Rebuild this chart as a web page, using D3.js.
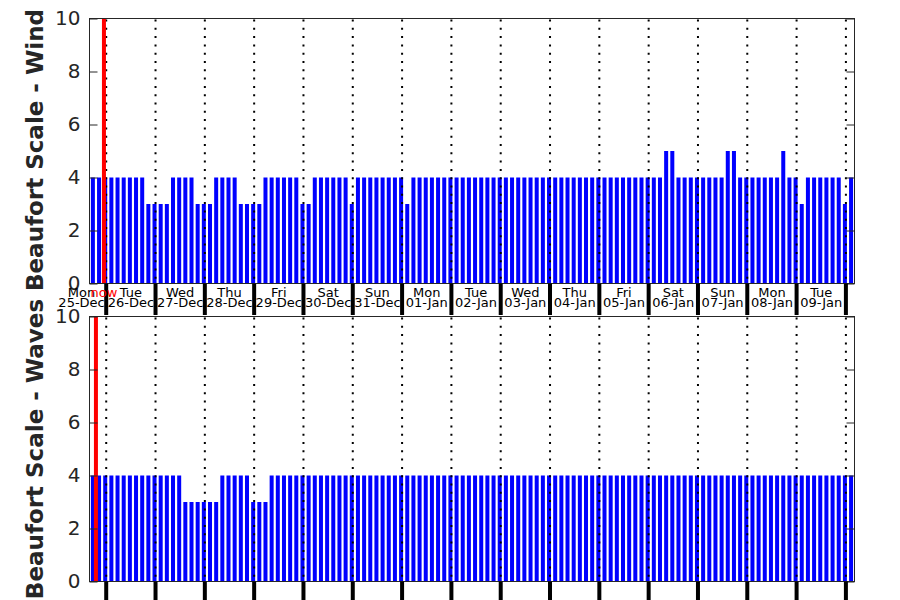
<!DOCTYPE html>
<html>
<head>
<meta charset="utf-8">
<script src="https://cdn.jsdelivr.net/npm/d3@7"></script>
<style>
  body { margin: 0; background: #fff; }
  svg { display: block; font-family: "DejaVu Sans", sans-serif; }
</style>
</head>
<body>
<svg id="chart" width="900" height="600"></svg>
<script>
// 3-hourly forecast, first slot Mon 25-Dec 18:00
const firstSlot = new Date(2023, 11, 25, 18);
const stepHours = 3;

const windValues = [
  4, 4,
  4, 4, 4, 4, 4, 4, 4, 3,
  3, 3, 3, 4, 4, 4, 4, 3,
  3, 3, 4, 4, 4, 4, 3, 3,
  3, 3, 4, 4, 4, 4, 4, 4,
  3, 3, 4, 4, 4, 4, 4, 4,
  3, 4, 4, 4, 4, 4, 4, 4,
  4, 3, 4, 4, 4, 4, 4, 4,
  4, 4, 4, 4, 4, 4, 4, 4,
  4, 4, 4, 4, 4, 4, 4, 4,
  4, 4, 4, 4, 4, 4, 4, 4,
  4, 4, 4, 4, 4, 4, 4, 4,
  4, 4, 4, 5, 5, 4, 4, 4,
  4, 4, 4, 4, 4, 5, 5, 4,
  4, 4, 4, 4, 4, 4, 5, 4,
  4, 3, 4, 4, 4, 4, 4, 4,
  3, 4
];

const waveValues = [
  4, 4,
  4, 4, 4, 4, 4, 4, 4, 4,
  4, 4, 4, 4, 4, 3, 3, 3,
  3, 3, 3, 4, 4, 4, 4, 4,
  3, 3, 3, 4, 4, 4, 4, 4,
  4, 4, 4, 4, 4, 4, 4, 4,
  4, 4, 4, 4, 4, 4, 4, 4,
  4, 4, 4, 4, 4, 4, 4, 4,
  4, 4, 4, 4, 4, 4, 4, 4,
  4, 4, 4, 4, 4, 4, 4, 4,
  4, 4, 4, 4, 4, 4, 4, 4,
  4, 4, 4, 4, 4, 4, 4, 4,
  4, 4, 4, 4, 4, 4, 4, 4,
  4, 4, 4, 4, 4, 4, 4, 4,
  4, 4, 4, 4, 4, 4, 4, 4,
  4, 4, 4, 4, 4, 4, 4, 4,
  4, 4
];

const weekdayLabels = ["Mon", "Tue", "Wed", "Thu", "Fri", "Sat", "Sun", "Mon",
                       "Tue", "Wed", "Thu", "Fri", "Sat", "Sun", "Mon", "Tue"];
const dateLabels = ["25-Dec", "26-Dec", "27-Dec", "28-Dec", "29-Dec", "30-Dec", "31-Dec", "01-Jan",
                    "02-Jan", "03-Jan", "04-Jan", "05-Jan", "06-Jan", "07-Jan", "08-Jan", "09-Jan"];
const firstDay = new Date(2023, 11, 25);

const yTicks = [0, 2, 4, 6, 8, 10];
const xLimits = [new Date(2023, 11, 25, 15, 52), new Date(2024, 0, 10, 4, 11)];
const nowTop = new Date(2023, 11, 25, 22, 54);
const nowBottom = new Date(2023, 11, 25, 19, 0);

const slotTimes = windValues.map((v, i) => d3.timeHour.offset(firstSlot, i * stepHours));
const dayStarts = weekdayLabels.map((w, i) => d3.timeDay.offset(firstDay, i));
const dayLines = dayStarts.slice(1).concat([d3.timeDay.offset(firstDay, weekdayLabels.length)]);

const svg = d3.select("#chart");
const axisColor = "#262626";

const x = d3.scaleTime().domain(xLimits).range([89.5, 854.5]);
const slotPx = x(d3.timeHour.offset(firstSlot, stepHours)) - x(firstSlot);
const barW = slotPx * 0.65;

function drawPanel(top, bottom, values, nowTime, label, labelY) {
  const y = d3.scaleLinear().domain([0, 10]).range([bottom, top]);
  const g = svg.append("g");

  g.selectAll("rect.bar")
    .data(values)
    .enter()
    .append("rect")
    .attr("class", "bar")
    .attr("x", (d, i) => x(slotTimes[i]) - barW / 2 - 1)
    .attr("y", d => y(d))
    .attr("width", barW)
    .attr("height", d => y(0) - y(d))
    .attr("fill", "#0000ff");

  g.selectAll("line.day")
    .data(dayLines)
    .enter()
    .append("line")
    .attr("class", "day")
    .attr("x1", d => x(d))
    .attr("x2", d => x(d))
    .attr("y1", top + 1)
    .attr("y2", bottom)
    .attr("stroke", "#000")
    .attr("stroke-width", 2)
    .attr("stroke-dasharray", "2 6.3");

  g.append("line")
    .attr("x1", x(nowTime))
    .attr("x2", x(nowTime))
    .attr("y1", top)
    .attr("y2", bottom)
    .attr("stroke", "#ff0000")
    .attr("stroke-width", 4);

  g.append("rect")
    .attr("x", x.range()[0])
    .attr("y", top)
    .attr("width", x.range()[1] - x.range()[0])
    .attr("height", bottom - top)
    .attr("fill", "none")
    .attr("stroke", axisColor)
    .attr("stroke-width", 1);

  const left = g.append("g")
    .attr("transform", `translate(${x.range()[0]},0)`)
    .call(d3.axisLeft(y).tickValues(yTicks).tickSize(-8).tickPadding(9));
  left.select(".domain").remove();
  left.selectAll("line").attr("stroke", axisColor);
  left.selectAll("text")
    .attr("fill", axisColor)
    .style("font-size", "20px")
    .style("font-family", "DejaVu Sans");

  const right = g.append("g")
    .attr("transform", `translate(${x.range()[1]},0)`)
    .call(d3.axisRight(y).tickValues(yTicks).tickSize(-8).tickFormat(""));
  right.select(".domain").remove();
  right.selectAll("line").attr("stroke", axisColor);

  g.append("text")
    .attr("transform", `translate(42.5,${labelY}) rotate(-90)`)
    .attr("text-anchor", "middle")
    .attr("fill", axisColor)
    .style("font-size", "23px")
    .style("font-weight", "bold")
    .text(label);

  return g;
}

const topTop = 18.5, topBottom = 283.5;
const botTop = 316.5, botBottom = 581.5;

drawPanel(topTop, topBottom, windValues, nowTop, "Beaufort Scale - Wind", 150);
drawPanel(botTop, botBottom, waveValues, nowBottom, "Beaufort Scale - Waves", 449);

// day labels under the wind panel
const labels = svg.append("g").style("font-size", "13px").attr("text-anchor", "middle");
dayStarts.forEach((d, i) => {
  const cx = x(d3.timeHour.offset(d, 12));
  labels.append("text").attr("x", cx).attr("y", 296.5).attr("fill", "#000").text(weekdayLabels[i]);
  labels.append("text").attr("x", cx).attr("y", 307).attr("fill", "#000").text(dateLabels[i]);
});

// thick day separators below each panel
[[topBottom, 315], [botBottom, 600]].forEach(([y1, y2]) => {
  svg.append("g").selectAll("line")
    .data(dayLines)
    .enter()
    .append("line")
    .attr("x1", d => x(d))
    .attr("x2", d => x(d))
    .attr("y1", y1)
    .attr("y2", y2)
    .attr("stroke", "#000")
    .attr("stroke-width", 4);
});

svg.append("text")
  .attr("x", x(nowTop))
  .attr("y", 296.5)
  .attr("text-anchor", "middle")
  .attr("fill", "#ff0000")
  .style("font-size", "13px")
  .text("now");
</script>
</body>
</html>
